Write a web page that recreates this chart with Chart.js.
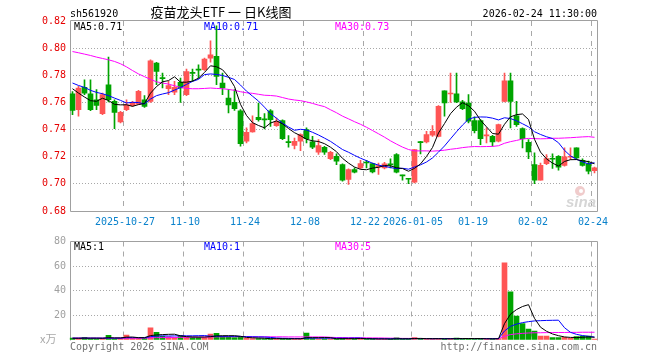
<!DOCTYPE html>
<html>
<head>
<meta charset="utf-8">
<script src="https://cdn.jsdelivr.net/npm/chart.js@4.4.1/dist/chart.umd.min.js"></script>
<style>
    body { margin: 0; background: #fff; }
    #wrap { position: relative; width: 660px; height: 360px; }
    canvas { position: absolute; left: 0; }
</style>
</head>
<body>
<div id="wrap">
    <canvas id="graficoK" width="660" height="232" style="top:0"></canvas>
    <canvas id="graficoVol" width="660" height="128" style="top:232px"></canvas>
</div>
<script>
const dates = [
    '2025-10-14','2025-10-15','2025-10-16','2025-10-17','2025-10-20','2025-10-21','2025-10-22','2025-10-23','2025-10-24','2025-10-27','2025-10-28','2025-10-29','2025-10-30','2025-10-31',
    '2025-11-03','2025-11-04','2025-11-05','2025-11-06','2025-11-07','2025-11-10','2025-11-11','2025-11-12','2025-11-13','2025-11-14','2025-11-17','2025-11-18','2025-11-19','2025-11-20','2025-11-21','2025-11-24','2025-11-25','2025-11-26','2025-11-27','2025-11-28',
    '2025-12-01','2025-12-02','2025-12-03','2025-12-04','2025-12-05','2025-12-08','2025-12-09','2025-12-10','2025-12-11','2025-12-12','2025-12-15','2025-12-16','2025-12-17','2025-12-18','2025-12-19','2025-12-22','2025-12-23','2025-12-24','2025-12-25','2025-12-26','2025-12-29','2025-12-30','2025-12-31',
    '2026-01-05','2026-01-06','2026-01-07','2026-01-08','2026-01-09','2026-01-12','2026-01-13','2026-01-14','2026-01-15','2026-01-16','2026-01-19','2026-01-20','2026-01-21','2026-01-22','2026-01-23','2026-01-26','2026-01-27','2026-01-28','2026-01-29','2026-01-30',
    '2026-02-02','2026-02-03','2026-02-04','2026-02-05','2026-02-06','2026-02-09','2026-02-10','2026-02-11','2026-02-12','2026-02-13','2026-02-24'
];

const open = [
    0.7664,0.7547,0.7711,0.7664,0.7620,0.7517,0.7730,0.7608,0.7456,0.7547,
    0.7576,0.7588,0.7620,0.7608,0.7890,0.7779,0.7701,0.7676,0.7748,0.7657,
    0.7819,0.7843,0.7841,0.7926,0.7939,0.7743,0.7632,0.7600,0.7539,0.7314,
    0.7382,0.7490,0.7475,0.7539,0.7429,0.7466,0.7309,0.7284,0.7314,0.7400,
    0.7309,0.7233,0.7270,0.7186,0.7203,0.7142,0.7032,0.7105,0.7118,0.7159,
    0.7149,0.7125,0.7118,0.7145,0.7216,0.7064,0.7039,0.7012,0.7309,0.7309,
    0.7358,0.7350,0.7686,0.7662,0.7664,0.7605,0.7596,0.7466,0.7466,0.7353,
    0.7350,0.7314,0.7608,0.7760,0.7502,0.7407,0.7306,0.7142,0.7027,0.7149,
    0.7186,0.7203,0.7135,0.7196,0.7265,0.7174,0.7147,0.7098
];
const high = [
    0.7680,0.7718,0.7767,0.7767,0.7694,0.7669,0.7934,0.7620,0.7534,0.7620,
    0.7608,0.7689,0.7650,0.7914,0.7895,0.7816,0.7755,0.7755,0.7779,0.7846,
    0.7846,0.7877,0.7926,0.8054,0.8164,0.7816,0.7694,0.7694,0.7547,0.7412,
    0.7502,0.7596,0.7517,0.7547,0.7485,0.7471,0.7355,0.7338,0.7368,0.7412,
    0.7350,0.7326,0.7277,0.7240,0.7221,0.7147,0.7110,0.7118,0.7174,0.7174,
    0.7154,0.7154,0.7159,0.7184,0.7223,0.7064,0.7039,0.7252,0.7314,0.7387,
    0.7429,0.7576,0.7686,0.7816,0.7816,0.7615,0.7657,0.7493,0.7473,0.7412,
    0.7358,0.7441,0.7816,0.7816,0.7608,0.7412,0.7326,0.7228,0.7154,0.7216,
    0.7221,0.7208,0.7265,0.7265,0.7265,0.7184,0.7167,0.7123
];
const low = [
    0.7510,0.7498,0.7657,0.7539,0.7547,0.7510,0.7603,0.7407,0.7449,0.7539,
    0.7571,0.7583,0.7564,0.7600,0.7730,0.7706,0.7657,0.7657,0.7600,0.7650,
    0.7755,0.7779,0.7836,0.7897,0.7730,0.7657,0.7522,0.7542,0.7277,0.7301,
    0.7380,0.7461,0.7404,0.7424,0.7424,0.7326,0.7270,0.7257,0.7245,0.7301,
    0.7260,0.7216,0.7216,0.7179,0.7142,0.7020,0.6995,0.7081,0.7110,0.7118,
    0.7081,0.7069,0.7110,0.7118,0.7081,0.7027,0.7002,0.7007,0.7221,0.7301,
    0.7350,0.7346,0.7498,0.7600,0.7598,0.7547,0.7449,0.7375,0.7289,0.7301,
    0.7277,0.7309,0.7603,0.7412,0.7424,0.7265,0.7186,0.7002,0.7027,0.7142,
    0.7113,0.7100,0.7130,0.7179,0.7179,0.7130,0.7074,0.7081
];
const close = [
    0.7542,0.7706,0.7669,0.7547,0.7578,0.7657,0.7620,0.7527,0.7527,0.7583,
    0.7600,0.7681,0.7571,0.7907,0.7828,0.7775,0.7725,0.7711,0.7706,0.7828,
    0.7814,0.7838,0.7919,0.7951,0.7792,0.7706,0.7581,0.7554,0.7297,0.7380,
    0.7444,0.7473,0.7471,0.7473,0.7461,0.7333,0.7304,0.7314,0.7363,0.7333,
    0.7270,0.7282,0.7233,0.7233,0.7167,0.7027,0.7105,0.7086,0.7149,0.7154,
    0.7088,0.7135,0.7147,0.7140,0.7086,0.7059,0.7034,0.7252,0.7304,0.7363,
    0.7387,0.7571,0.7596,0.7667,0.7603,0.7554,0.7461,0.7392,0.7333,0.7358,
    0.7309,0.7436,0.7760,0.7608,0.7436,0.7333,0.7235,0.7027,0.7137,0.7186,
    0.7181,0.7123,0.7199,0.7201,0.7191,0.7135,0.7093,0.7118
];

const ma5 = [
    0.7701,0.7669,0.7640,0.7613,0.7608,0.7631,0.7614,0.7586,0.7582,0.7583,
    0.7571,0.7584,0.7592,0.7668,0.7717,0.7752,0.7761,0.7789,0.7749,0.7749,
    0.7757,0.7779,0.7821,0.7870,0.7863,0.7841,0.7790,0.7717,0.7586,0.7504,
    0.7451,0.7430,0.7413,0.7448,0.7464,0.7442,0.7408,0.7377,0.7355,0.7329,
    0.7317,0.7312,0.7296,0.7270,0.7237,0.7188,0.7153,0.7124,0.7107,0.7104,
    0.7116,0.7122,0.7135,0.7133,0.7119,0.7113,0.7093,0.7114,0.7147,0.7202,
    0.7268,0.7375,0.7444,0.7517,0.7565,0.7598,0.7576,0.7535,0.7469,0.7420,
    0.7371,0.7366,0.7439,0.7494,0.7510,0.7515,0.7474,0.7328,0.7234,0.7184,
    0.7153,0.7131,0.7165,0.7178,0.7179,0.7170,0.7164,0.7148
];
const ma10 = [
    0.7743,0.7725,0.7711,0.7689,0.7674,0.7664,0.7650,0.7632,0.7615,0.7596,
    0.7601,0.7599,0.7589,0.7625,0.7650,0.7662,0.7672,0.7691,0.7709,0.7733,
    0.7755,0.7770,0.7805,0.7810,0.7806,0.7799,0.7785,0.7769,0.7728,0.7683,
    0.7646,0.7610,0.7565,0.7517,0.7484,0.7447,0.7419,0.7395,0.7402,0.7397,
    0.7380,0.7360,0.7337,0.7313,0.7283,0.7253,0.7233,0.7210,0.7189,0.7171,
    0.7152,0.7138,0.7129,0.7120,0.7112,0.7115,0.7108,0.7124,0.7140,0.7161,
    0.7191,0.7234,0.7279,0.7332,0.7384,0.7433,0.7476,0.7490,0.7493,0.7492,
    0.7484,0.7471,0.7487,0.7481,0.7465,0.7443,0.7420,0.7384,0.7364,0.7347,
    0.7334,0.7303,0.7247,0.7206,0.7181,0.7162,0.7147,0.7156
];
const ma30 = [
    0.7975,0.7966,0.7956,0.7946,0.7934,0.7924,0.7914,0.7902,0.7885,0.7862,
    0.7835,0.7810,0.7790,0.7770,0.7752,0.7743,0.7735,0.7723,0.7711,0.7703,
    0.7701,0.7701,0.7703,0.7706,0.7703,0.7701,0.7696,0.7689,0.7679,0.7671,
    0.7667,0.7660,0.7653,0.7651,0.7647,0.7636,0.7625,0.7618,0.7613,0.7604,
    0.7593,0.7580,0.7569,0.7546,0.7524,0.7499,0.7479,0.7458,0.7439,0.7417,
    0.7393,0.7369,0.7344,0.7317,0.7293,0.7271,0.7253,0.7243,0.7243,0.7243,
    0.7241,0.7244,0.7248,0.7255,0.7260,0.7267,0.7272,0.7275,0.7274,0.7275,
    0.7276,0.7281,0.7299,0.7311,0.7320,0.7330,0.7335,0.7333,0.7332,0.7333,
    0.7336,0.7336,0.7338,0.7340,0.7343,0.7346,0.7348,0.7343
];

// volume (万)
const volume = [
    1.5,1.5,2.2,1.2,1.0,1.2,3.8,1.2,1.4,4.0,
    1.5,1.5,1.3,9.8,6.2,3.0,2.5,2.0,3.3,2.5,
    2.2,2.2,2.0,4.8,5.4,3.0,2.2,2.0,2.2,1.3,
    1.2,1.2,1.0,1.0,1.0,1.2,0.8,0.8,1.0,5.6,
    1.2,1.0,1.0,0.9,1.0,1.6,1.2,1.0,1.0,0.8,
    1.0,0.8,0.8,0.8,1.8,0.8,0.8,1.9,1.0,0.8,
    0.8,1.2,1.0,1.2,1.5,1.0,1.2,1.2,1.0,0.8,
    1.0,1.2,62.6,39.2,19.5,13.3,8.8,7.2,3.2,3.2,
    1.9,1.9,2.1,1.3,2.7,3.2,3.2,0.8
];
const volMa5 = [
    1.4,1.4,1.5,1.5,1.5,1.4,1.9,1.7,1.7,2.3,
    2.4,1.9,1.9,3.6,4.1,4.4,4.6,4.7,3.4,2.7,
    2.5,2.4,2.4,2.7,3.3,3.5,3.5,3.5,3.0,2.1,
    1.8,1.6,1.4,1.1,1.1,1.1,1.0,1.0,1.0,1.9,
    1.9,1.9,2.0,1.9,1.0,1.1,1.1,1.1,1.2,1.1,
    1.0,0.9,0.9,0.8,1.0,1.0,1.0,1.2,1.3,1.1,
    1.1,1.1,1.0,1.0,1.1,1.2,1.2,1.2,1.2,1.0,
    1.0,1.0,13.3,21.0,24.7,27.2,28.7,17.6,10.4,7.1,
    4.9,3.5,2.5,2.1,2.0,2.2,2.5,2.2
];
const volMa10 = [
    1.5,1.5,1.5,1.5,1.5,1.5,1.5,1.5,1.5,1.9,
    1.9,1.9,1.8,2.7,3.2,3.4,3.2,3.3,3.5,3.4,
    3.4,3.5,3.6,3.1,3.0,3.0,3.0,3.0,2.9,2.7,
    2.6,2.5,2.4,2.1,1.6,1.4,1.3,1.2,1.1,1.5,
    1.5,1.5,1.5,1.5,1.5,1.5,1.5,1.6,1.6,1.1,
    1.1,1.0,1.0,1.0,1.1,1.0,1.0,1.1,1.1,1.1,
    1.0,1.1,1.1,1.1,1.1,1.1,1.2,1.1,1.1,1.1,
    1.1,1.1,7.3,11.1,12.9,14.1,14.9,15.5,15.7,15.9,
    16.0,16.1,10.0,6.2,4.6,3.6,3.0,2.4
];
const volMa30 = [
    1.5,1.5,1.5,1.5,1.5,1.5,1.5,1.5,1.5,1.5,
    1.5,1.5,1.5,1.8,1.9,2.0,2.0,2.1,2.2,2.2,
    2.3,2.3,2.4,2.5,2.6,2.6,2.7,2.7,2.7,2.7,
    2.6,2.6,2.6,2.6,2.6,2.6,2.5,2.5,2.5,2.5,
    2.5,2.5,2.5,2.2,2.0,2.0,1.9,1.9,1.8,1.8,
    1.7,1.7,1.6,1.5,1.4,1.3,1.3,1.3,1.2,1.2,
    1.2,1.2,1.2,1.2,1.2,1.2,1.2,1.2,1.2,1.1,
    1.1,1.1,3.1,4.4,5.0,5.4,5.7,5.9,5.9,6.0,
    6.1,6.1,6.1,6.2,6.2,6.3,6.3,6.3
];

// labelled dates on the x axis and the text shown for them
const tickDates = ['2025-10-27','2025-11-10','2025-11-24','2025-12-08','2025-12-22','2026-01-05','2026-01-19','2026-02-02','2026-02-24'];
const tickTexts = ['2025-10-27','11-10','11-24','12-08','12-22','2026-01-05','01-19','02-02','02-24'];

const priceMin = 0.68, priceMax = 0.82, priceStep = 0.02;
const volMin = 0, volMax = 80, volStep = 20;

const MONO = '"DejaVu Sans Mono", "Liberation Mono", monospace';
const CJK = '"Noto Sans CJK SC", "Noto Sans", sans-serif';
const RED = '#ff5555';
const GREEN = '#00a400';
const FRAME = '#a0a0a0';
const GRID = '#a8a8a8';

const corCandle = close.map((c, i) => c >= open[i] ? RED : GREEN);
const tickIdx = tickDates.map(d => dates.indexOf(d));

function fixWidth(scale) { scale.width = 69.5; }

// frame round the plot area (bottom side optional)
const moldura = {
    id: 'moldura',
    beforeDatasetsDraw(chart, args, opts) {
        const a = chart.chartArea;
        const ctx = chart.ctx;
        const l = Math.round(a.left) + 0.5, r = Math.round(a.right) - 0.5;
        const t = Math.round(a.top) - 0.5, b = Math.round(a.bottom) + 0.5;
        ctx.save();
        ctx.strokeStyle = FRAME;
        ctx.lineWidth = 1;
        ctx.beginPath();
        ctx.moveTo(l, b);
        ctx.lineTo(l, t);
        ctx.lineTo(r, t);
        ctx.lineTo(r, b);
        if (opts.bottom) ctx.lineTo(l, b);
        ctx.stroke();
        ctx.restore();
    }
};

// free texts (header, legends, footer)
const textos = {
    id: 'textos',
    afterDraw(chart, args, opts) {
        const ctx = chart.ctx;
        ctx.save();
        (opts.items || []).forEach(t => {
            ctx.font = t.font;
            ctx.fillStyle = t.color;
            ctx.textAlign = t.align || 'left';
            ctx.textBaseline = 'alphabetic';
            ctx.fillText(t.text, t.x, t.y);
        });
        if (opts.logo) {
            ctx.fillStyle = '#f0cccc';
            ctx.beginPath();
            ctx.arc(580, 191, 5, 0, Math.PI * 2);
            ctx.fill();
            ctx.fillStyle = '#fff';
            ctx.beginPath();
            ctx.arc(581, 191, 2, 0, Math.PI * 2);
            ctx.fill();
        }
        ctx.restore();
    }
};

const xGrid = {
    offset: true,
    drawTicks: false,
    lineWidth: 1,
    color: c => tickIdx.includes(c.index) ? GRID : 'rgba(0,0,0,0)'
};

function lineDs(label, data, color) {
    return { type: 'line', label, data, borderColor: color, borderWidth: 1, pointRadius: 0, tension: 0, fill: false, order: 0 };
}

new Chart(document.getElementById('graficoK'), {
    type: 'bar',
    data: {
        labels: dates,
        datasets: [
            lineDs('MA5', ma5, '#000000'),
            lineDs('MA10', ma10, '#0000ff'),
            lineDs('MA30', ma30, '#ff00ff'),
            {
                label: 'body',
                data: open.map((o, i) => [o, close[i]]),
                backgroundColor: corCandle,
                barThickness: 5,
                minBarLength: 1,
                grouped: false,
                order: 1
            },
            {
                label: 'wick',
                data: low.map((l, i) => [l, high[i]]),
                backgroundColor: corCandle,
                barThickness: 1,
                grouped: false,
                order: 2
            }
        ]
    },
    options: {
        responsive: false,
        animation: false,
        events: [],
        layout: { padding: { top: 21, right: 62.5, left: 0, bottom: 0 } },
        scales: {
            x: {
                offset: true,
                grid: xGrid,
                border: { display: false, dash: [5, 5] },
                ticks: {
                    autoSkip: false,
                    maxRotation: 0,
                    minRotation: 0,
                    padding: 5,
                    labelOffset: -1.5,
                    color: '#0a82cc',
                    font: { family: MONO, size: 10 },
                    callback: (v, i) => {
                        const k = tickIdx.indexOf(i);
                        return k >= 0 ? tickTexts[k] : '';
                    }
                },
                afterFit: s => { s.height = 21; }
            },
            y: {
                min: priceMin,
                max: priceMax,
                grid: {
                    drawTicks: false,
                    color: c => (c.index === 0 || c.tick.value >= priceMax - 1e-6) ? 'rgba(0,0,0,0)' : GRID
                },
                border: { display: false, dash: [1, 2] },
                ticks: {
                    stepSize: priceStep,
                    padding: 3.5,
                    color: '#e60000',
                    font: { family: MONO, size: 10 },
                    callback: v => v.toFixed(2)
                },
                afterFit: fixWidth
            }
        },
        plugins: {
            legend: { display: false },
            tooltip: { enabled: false },
            moldura: { bottom: true },
            textos: {
                logo: true,
                items: [
                    { text: 'sh561920', x: 70, y: 17, color: '#000', font: '10px ' + MONO },
                    { text: '疫苗龙头ETF 一 日K线图', x: 221, y: 17, color: '#000', font: '13px ' + CJK, align: 'center' },
                    { text: '2026-02-24 11:30:00', x: 597, y: 17, color: '#000', font: '10px ' + MONO, align: 'right' },
                    { text: 'MA5:0.71', x: 74, y: 30, color: '#000', font: '10px ' + MONO },
                    { text: 'MA10:0.71', x: 204, y: 30, color: '#0000ff', font: '10px ' + MONO },
                    { text: 'MA30:0.73', x: 335, y: 30, color: '#ff00ff', font: '10px ' + MONO },
                    { text: 'sina', x: 596, y: 207, color: '#d6d6d6', font: 'italic bold 15px "Liberation Sans", sans-serif', align: 'right' }
                ]
            }
        }
    },
    plugins: [moldura, textos]
});

new Chart(document.getElementById('graficoVol'), {
    type: 'bar',
    data: {
        labels: dates,
        datasets: [
            lineDs('MA5', volMa5, '#000000'),
            lineDs('MA10', volMa10, '#0000ff'),
            lineDs('MA30', volMa30, '#ff00ff'),
            {
                label: 'volume',
                data: volume,
                backgroundColor: corCandle,
                barThickness: 5,
                grouped: false,
                order: 1
            }
        ]
    },
    options: {
        responsive: false,
        animation: false,
        events: [],
        layout: { padding: { top: 8, right: 62.5, left: 0, bottom: 0 } },
        scales: {
            x: {
                offset: true,
                grid: xGrid,
                border: { display: false, dash: [5, 5] },
                ticks: { display: false, autoSkip: false },
                afterFit: s => { s.height = 20; }
            },
            y: {
                min: volMin,
                max: volMax,
                grid: {
                    drawTicks: false,
                    color: c => (c.index === 0 || c.tick.value >= volMax) ? 'rgba(0,0,0,0)' : GRID
                },
                border: { display: false, dash: [1, 2] },
                ticks: {
                    stepSize: volStep,
                    padding: 3.5,
                    color: '#a0a0a0',
                    font: { family: MONO, size: 10 },
                    callback: v => v === 0 ? '' : v
                },
                afterFit: fixWidth
            }
        },
        plugins: {
            legend: { display: false },
            tooltip: { enabled: false },
            moldura: { bottom: false },
            textos: {
                items: [
                    { text: 'MA5:1', x: 74, y: 18, color: '#000', font: '10px ' + MONO },
                    { text: 'MA10:1', x: 204, y: 18, color: '#0000ff', font: '10px ' + MONO },
                    { text: 'MA30:5', x: 335, y: 18, color: '#ff00ff', font: '10px ' + MONO },
                    { text: 'x万', x: 40, y: 111, color: '#a8a8a8', font: '11px ' + CJK },
                    { text: 'Copyright 2026 SINA.COM', x: 70, y: 118, color: '#707070', font: '10px ' + MONO },
                    { text: 'http://finance.sina.com.cn', x: 597, y: 118, color: '#707070', font: '10px ' + MONO, align: 'right' }
                ]
            }
        }
    },
    plugins: [moldura, textos]
});
</script>
</body>
</html>
